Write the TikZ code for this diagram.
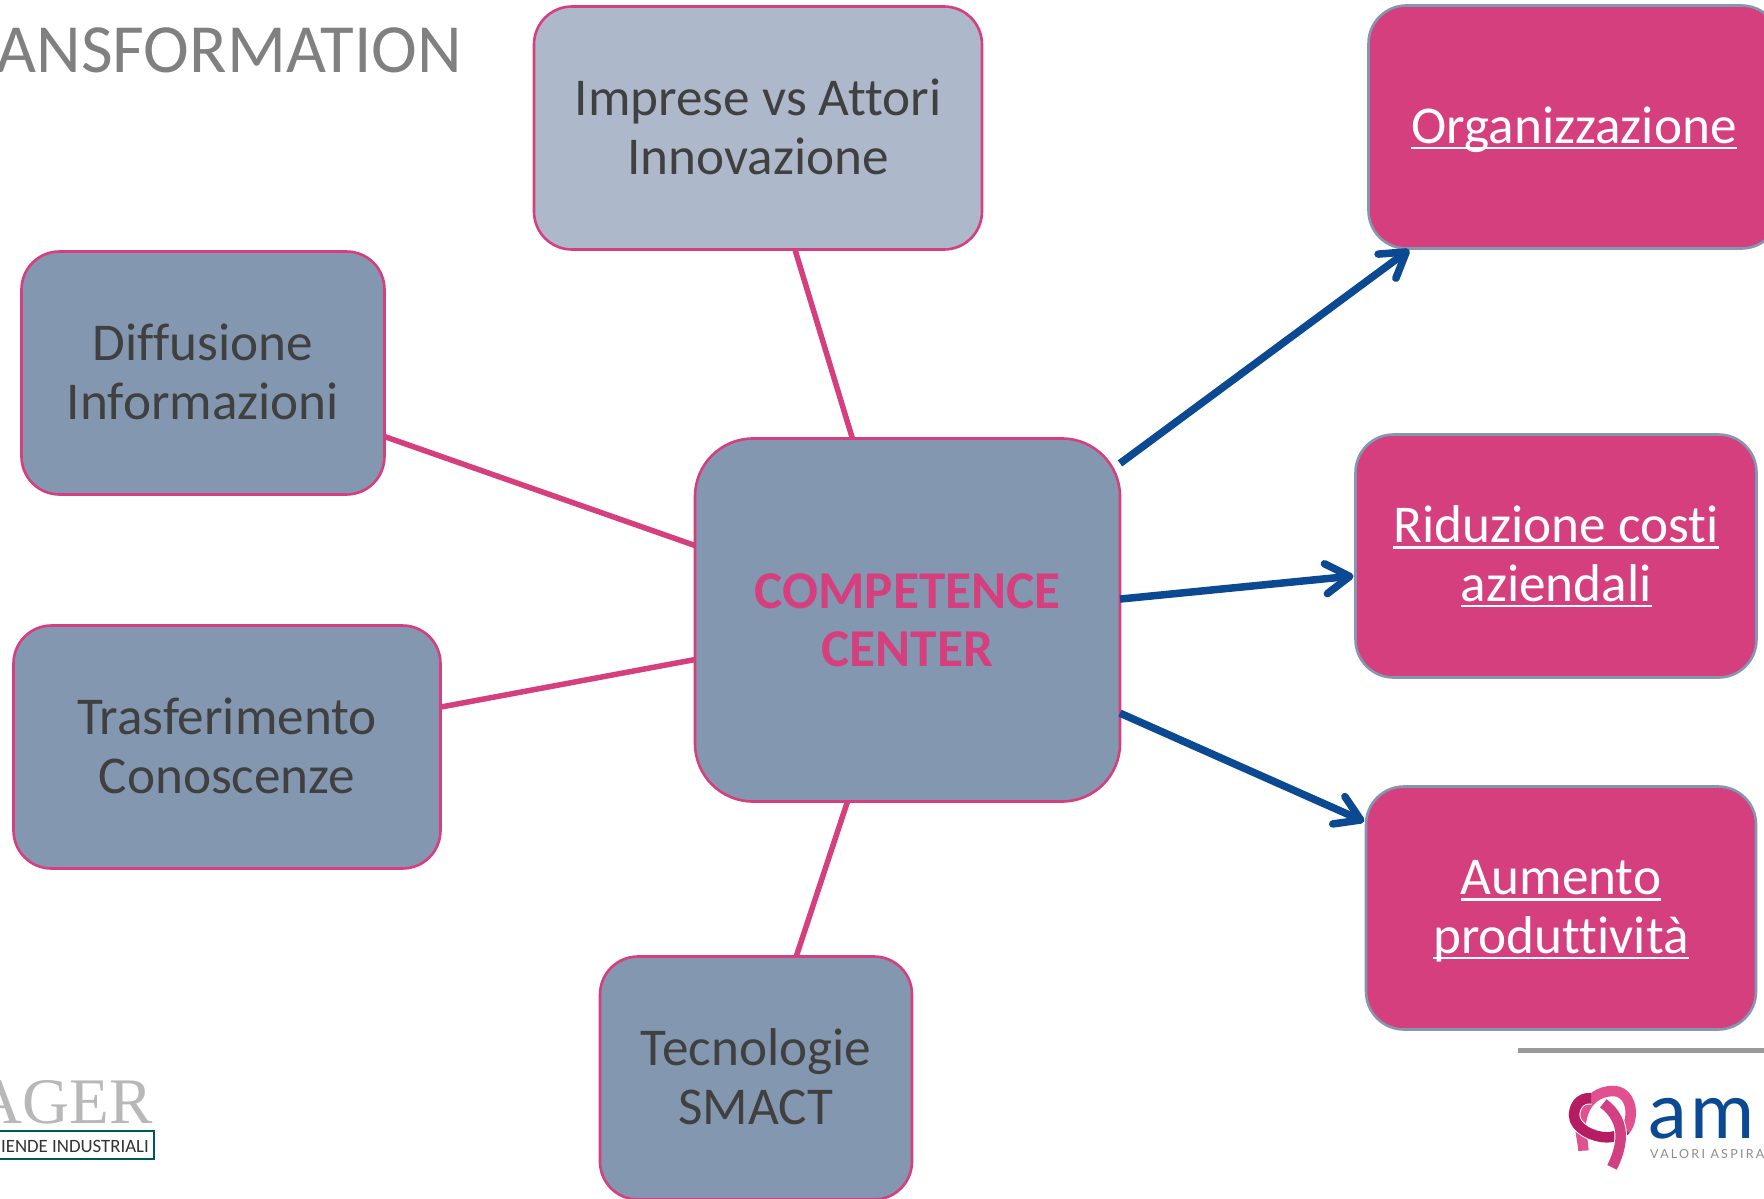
\documentclass[tikz,border=0pt]{standalone}
\usepackage{fontspec}
\setmainfont[Ligatures=NoCommon]{Carlito}
\newfontfamily\logoserif{Liberation Serif}
\newfontfamily\logosans{Carlito}
\newfontfamily\amfont[LetterSpace=5]{Lato}
\newfontfamily\valfont[LetterSpace=18]{Lato}
\usetikzlibrary{arrows.meta}
\definecolor{boxblue}{HTML}{8497B0}
\definecolor{boxlight}{HTML}{ADB9CA}
\definecolor{pinkm}{HTML}{D63F7E}
\definecolor{navy}{HTML}{0B4A92}
\definecolor{txt}{HTML}{404040}
\definecolor{ribtop}{HTML}{E2508F}
\definecolor{ribdark}{HTML}{B51C62}
\definecolor{ribmid}{HTML}{D23F82}
\tikzset{
  box/.style={draw=pinkm,fill=boxblue,line width=2.6pt,rounded corners=38pt,align=center,text=txt,
    inner sep=0pt,outer sep=0pt,font=\fontsize{53.2}{58.5}\selectfont},
  out box/.style={box,draw=boxblue,fill=pinkm,text=white},
  spoke/.style={draw=pinkm,line width=5.5pt},
  result/.style={draw=navy,line width=7.5pt,shorten >=2pt,-{Straight Barb[length=24pt,width=30pt,line width=7.5pt,round]}},
  ribbon/.style={line width=10.5pt,line cap=butt},
  casing/.style={draw=white,line width=12.5pt},
}
\newsavebox{\ulbox}
\newcommand{\ul}[1]{\sbox{\ulbox}{#1}\strut\rlap{#1}\rule[-6pt]{\wd\ulbox}{2.6pt}}
\newcommand{\ulfirst}[1]{\rule{0pt}{50pt}\ul{#1}}
\newcommand{\dn}{\rule[-2.5pt]{0pt}{2.5pt}}
\begin{document}
\begin{tikzpicture}[x=1pt,y=-1pt]
\useasboundingbox (0,0) rectangle (1764,1199);
\clip (0,0) rectangle (1764,1199);
\fill[white] (0,0) rectangle (1764,1199);
\node[anchor=base east,inner sep=0pt,text=black!50,font=\fontsize{69}{69}\selectfont] (title) at (462,73) {ANSFORMATION};
\node[box,fill=boxlight,minimum width=448pt,minimum height=243pt] (imprese) at (758,128) {Imprese vs Attori\\Innovazione\dn};
\node[box,minimum width=363pt,minimum height=243pt] (diffusione) at (203,373) {Diffusione\\Informazioni\dn};
\node[box,minimum width=427pt,minimum height=243pt] (trasf) at (227,747) {Trasferimento\\Conoscenze\dn};
\node[box,minimum width=312pt,minimum height=243pt] (tecno) at (756,1078) {Tecnologie\\SMACT\dn};
\node[box,rounded corners=58pt,minimum width=425pt,minimum height=363pt,text=pinkm,font=\fontsize{53.2}{58.5}\selectfont\bfseries] (cc) at (907.5,620) {COMPETENCE\\CENTER};
\node[out box,minimum width=411pt,minimum height=243pt] (org) at (1574,127) {\ulfirst{Organizzazione}};
\node[out box,minimum width=401pt,minimum height=243pt] (rid) at (1556,556) {\ulfirst{Riduzione costi}\\\ul{aziendali}};
\node[out box,minimum width=390pt,minimum height=243pt] (aum) at (1561,908) {\ulfirst{Aumento}\\\ul{produttività}};
\draw[spoke] (imprese) -- (cc);
\draw[spoke] (diffusione) -- (cc);
\draw[spoke] (trasf) -- (cc);
\draw[spoke] (tecno) -- (cc);
\draw[result] (cc) -- (org);
\draw[result] (cc) -- (rid);
\draw[result] (cc) -- (aum);
% AGER logo
\node[anchor=base east,inner sep=0pt,text=black!28,font=\logoserif\fontsize{65}{65}\selectfont] (ager) at (153,1123) {AGER};
\draw[draw=teal!70!black,line width=1.5pt,fill=white] (-5,1131) rectangle (154,1159);
\node[anchor=base east,inner sep=0pt,text=black!80,font=\logosans\fontsize{18.8}{18.8}\selectfont] (aziende) at (149,1152) {IENDE INDUSTRIALI};
% separator
\fill[black!40] (1518,1048) rectangle (1764,1052.5);
% ribbon logo
\begin{scope}[shift={(1500,1030)},x=0.3333pt,y=-0.3333pt]
\draw[ribbon,draw=ribtop] (250,362) .. controls (250,330) and (235,300) .. (245,265)
   .. controls (258,205) and (300,183) .. (340,183)
   .. controls (380,183) and (395,225) .. (392,255)
   .. controls (390,280) and (382,295) .. (370,305);
\draw[casing] (275,205) .. controls (235,200) and (222,235) .. (222,255)
   .. controls (222,295) and (280,322) .. (320,322) .. controls (345,322) and (365,312) .. (378,298);
\draw[ribbon,draw=ribdark] (275,205) .. controls (235,200) and (222,235) .. (222,255)
   .. controls (222,295) and (280,322) .. (320,322) .. controls (345,322) and (365,312) .. (378,298);
\draw[casing] (310,220) .. controls (345,245) and (365,285) .. (362,325)
   .. controls (360,355) and (350,385) .. (336,412);
\draw[ribbon,draw=ribmid] (310,220) .. controls (345,245) and (365,285) .. (362,325)
   .. controls (360,355) and (350,385) .. (336,412);
\end{scope}
\node[anchor=base west,inner sep=0pt,text=navy,font=\amfont\fontsize{78}{78}\selectfont] (am) at (1648,1138) {am};
\node[anchor=base west,inner sep=0pt,text=black!45,font=\valfont\fontsize{12.5}{12.5}\selectfont] (valori) at (1650,1158) {VALORI ASPIRAZ};
\end{tikzpicture}
\end{document}
